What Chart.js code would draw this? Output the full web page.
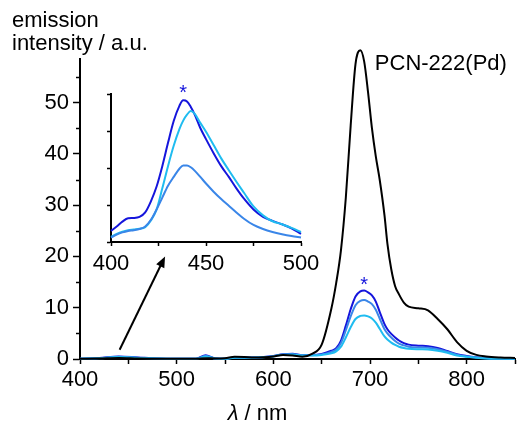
<!DOCTYPE html>
<html><head><meta charset="utf-8">
<script src="https://cdn.jsdelivr.net/npm/chart.js@4/dist/chart.umd.min.js"></script>
<style>
html,body{margin:0;padding:0;background:#fff;overflow:hidden}
#wrap{position:relative;width:518px;height:425px}
canvas{position:absolute;left:0;top:0}
</style></head><body>
<div id="wrap"><canvas id="main" width="518" height="425"></canvas><canvas id="inset" width="518" height="425"></canvas></div>
<script>
// ---- main spectrum data (wavelength / nm, emission intensity / a.u.) ----
const wavelengths = [400,420,440,460,480,500,520,530,540,550,560,570,580,590,600,610,620,630,640,650,660,665,670,675,680,685,690,694,698,702,706,710,715,718,722,726,730,735,740,750,760,770,780,790,800,810,820,835,850];
const pcnPd      = [0.05,0.1,0.2,0.1,0.05,0.05,0.05,0.15,0.1,0.15,0.45,0.4,0.3,0.35,0.5,0.8,0.7,0.45,1.0,2.8,9.8,14.8,21.3,31.5,45.5,57.5,60.2,58.0,52.0,45.0,39.5,35.0,28.0,22.5,17.5,14.2,12.6,11.0,10.2,9.9,9.5,7.8,5.8,3.3,1.6,0.8,0.5,0.3,0.2];
const sampleDark = [0.05,0.2,0.5,0.3,0.1,0.05,0.05,0.75,0.1,0.05,0.3,0.3,0.3,0.4,0.6,0.95,1.0,0.8,0.8,1.0,1.6,2.1,3.6,6.5,9.7,12.2,13.2,13.35,13.0,12.4,11.2,9.2,6.8,5.8,4.9,4.2,3.6,3.1,2.8,2.6,2.5,2.15,1.55,0.95,0.6,0.35,0.2,0.1,0.05];
const sampleMid  = [0.05,0.18,0.45,0.25,0.1,0.05,0.05,0.6,0.1,0.05,0.28,0.28,0.28,0.38,0.55,0.9,0.95,0.75,0.75,0.9,1.4,1.85,3.1,5.6,8.3,10.5,11.35,11.5,11.2,10.7,9.6,7.9,5.8,5.0,4.2,3.5,3.0,2.65,2.4,2.25,2.2,1.9,1.4,0.85,0.5,0.3,0.15,0.08,0.05];
const sampleCyan = [0.05,0.15,0.4,0.2,0.08,0.05,0.05,0.5,0.1,0.05,0.25,0.25,0.25,0.35,0.5,0.85,0.9,0.7,0.7,0.8,1.1,1.5,2.4,4.2,6.2,7.8,8.4,8.5,8.3,7.9,7.1,5.9,4.4,3.8,3.2,2.75,2.4,2.15,2.0,1.9,1.85,1.6,1.2,0.7,0.45,0.25,0.12,0.06,0.04];
const xTickLabels = [400,500,600,700,800];
const yTickLabels = [0,10,20,30,40,50];

// ---- inset data (400-500 nm region, arbitrary units) ----
const insetWavelengths = [400,403,406,409,412,415,418,421,424,427,430,433,436,438,440,442,444,447,450,454,458,462,466,470,475,480,485,490,495,500];
const insetDark = [0.30,0.42,0.55,0.64,0.65,0.68,0.80,1.10,1.50,2.05,2.68,3.27,3.68,3.83,3.80,3.65,3.45,3.08,2.78,2.40,2.05,1.76,1.45,1.17,0.88,0.68,0.57,0.48,0.37,0.22];
const insetCyan = [0.14,0.22,0.28,0.32,0.34,0.36,0.40,0.58,0.88,1.45,2.05,2.60,3.05,3.28,3.44,3.54,3.47,3.22,2.98,2.62,2.26,1.94,1.63,1.33,0.96,0.72,0.56,0.48,0.38,0.27];
const insetMid  = [0.12,0.20,0.26,0.30,0.32,0.35,0.42,0.60,0.88,1.20,1.52,1.76,1.98,2.07,2.07,2.02,1.93,1.76,1.58,1.36,1.16,0.98,0.80,0.63,0.46,0.35,0.27,0.21,0.16,0.12];
const insetXTickLabels = [400,450,500];

const C_BLACK = '#000000', C_DARK = '#1515dc', C_MID = '#3a86e8', C_CYAN = '#1fbcf0';
const FONT = '"Liberation Sans", Arial, Helvetica, sans-serif';
const pts = (xs, ys) => xs.map((x, i) => ({x, y: ys[i]}));

function ds(xs, ys, color) {
  return {data: pts(xs, ys), borderColor: color, borderWidth: 2, pointRadius: 0, fill: false,
          cubicInterpolationMode: 'monotone', clip: false};
}

const mainDeco = {
  id: 'mainDeco',
  afterDraw(chart) {
    const ctx = chart.ctx, xs = chart.scales.x, ys = chart.scales.y;
    ctx.save();
    // minor y ticks
    ctx.strokeStyle = '#000'; ctx.lineWidth = 1.5;
    for (let v = 5; v < ys.max; v += 10) {
      const y = Math.round(ys.getPixelForValue(v)) + 0.5;
      ctx.beginPath(); ctx.moveTo(xs.left - 4, y); ctx.lineTo(xs.left, y); ctx.stroke();
    }
    // series label
    ctx.fillStyle = '#000';
    ctx.font = '22px ' + FONT; ctx.textAlign = 'left'; ctx.textBaseline = 'alphabetic';
    ctx.fillText('PCN-222(Pd)', xs.getPixelForValue(705), ys.getPixelForValue(56.4));
    // asterisk over the strongest blue peak
    let im = 0; sampleDark.forEach((v, i) => { if (v > sampleDark[im]) im = i; });
    ctx.fillStyle = C_DARK; ctx.font = '20px ' + FONT; ctx.textAlign = 'center';
    ctx.fillText('*', xs.getPixelForValue(wavelengths[im]), ys.getPixelForValue(sampleDark[im]));
    // arrow pointing to inset
    const x0 = xs.getPixelForValue(441), y0 = ys.getPixelForValue(1.8);
    const x1 = xs.getPixelForValue(488), y1 = ys.getPixelForValue(20);
    const ang = Math.atan2(y1 - y0, x1 - x0), L = 11, W = 4.5;
    ctx.strokeStyle = '#000'; ctx.lineWidth = 2;
    ctx.beginPath(); ctx.moveTo(x0, y0);
    ctx.lineTo(x1 - Math.cos(ang) * (L - 2), y1 - Math.sin(ang) * (L - 2)); ctx.stroke();
    ctx.fillStyle = '#000'; ctx.beginPath();
    ctx.moveTo(x1, y1);
    ctx.lineTo(x1 - Math.cos(ang) * L + Math.sin(ang) * W, y1 - Math.sin(ang) * L - Math.cos(ang) * W);
    ctx.lineTo(x1 - Math.cos(ang) * L - Math.sin(ang) * W, y1 - Math.sin(ang) * L + Math.cos(ang) * W);
    ctx.closePath(); ctx.fill();
    // axis titles
    ctx.fillStyle = '#000'; ctx.font = '22px ' + FONT; ctx.textAlign = 'left';
    ctx.fillText('emission', 12, 27);
    ctx.fillText('intensity / a.u.', 12, 50);
    ctx.font = 'italic 22px ' + FONT;
    const wl = ctx.measureText('λ').width;
    ctx.font = '22px ' + FONT;
    const wr = ctx.measureText(' / nm').width;
    const cx = (xs.left + xs.right) / 2 - 40;
    let sx = cx - (wl + wr) / 2;
    ctx.font = 'italic 22px ' + FONT; ctx.fillText('λ', sx, 420);
    ctx.font = '22px ' + FONT; ctx.fillText(' / nm', sx + wl, 420);
    ctx.restore();
  }
};

new Chart(document.getElementById('main'), {
  type: 'line',
  data: {datasets: [
    ds(wavelengths, pcnPd, C_BLACK),
    ds(wavelengths, sampleCyan, C_CYAN),
    ds(wavelengths, sampleMid, C_MID),
    ds(wavelengths, sampleDark, C_DARK)
  ]},
  options: {
    responsive: false, animation: false, devicePixelRatio: 1,
    layout: {padding: {left: 0, right: 0, top: 59, bottom: 0}},
    plugins: {legend: {display: false}, tooltip: {enabled: false}},
    scales: {
      x: {type: 'linear', min: 400, max: 850,
          afterFit(s) { s.height = 66; },
          ticks: {stepSize: 50, autoSkip: false, maxRotation: 0, padding: 3, color: '#000',
                  font: {size: 22, family: FONT},
                  callback: v => xTickLabels.includes(v) ? String(v) : ''},
          grid: {drawOnChartArea: false, tickLength: 5, tickColor: '#000', tickWidth: 1.5},
          border: {color: '#000', width: 2}},
      y: {type: 'linear', min: 0, max: 58.5,
          afterFit(s) { s.width = 80; },
          ticks: {stepSize: 10, includeBounds: false, padding: 4, color: '#000',
                  font: {size: 22, family: FONT},
                  callback: v => yTickLabels.includes(v) ? String(v) : ''},
          grid: {drawOnChartArea: false, tickLength: 7, tickColor: '#000', tickWidth: 1.5},
          border: {color: '#000', width: 2}}
    }
  },
  plugins: [mainDeco]
});

const insetDeco = {
  id: 'insetDeco',
  afterDraw(chart) {
    const ctx = chart.ctx, xs = chart.scales.x, ys = chart.scales.y;
    let im = 0; insetDark.forEach((v, i) => { if (v > insetDark[im]) im = i; });
    ctx.save();
    ctx.fillStyle = C_DARK; ctx.font = '20px ' + FONT; ctx.textAlign = 'center'; ctx.textBaseline = 'alphabetic';
    ctx.fillText('*', xs.getPixelForValue(insetWavelengths[im]), ys.getPixelForValue(insetDark[im]) - 1);
    ctx.restore();
  }
};

new Chart(document.getElementById('inset'), {
  type: 'line',
  data: {datasets: [
    ds(insetWavelengths, insetMid, C_MID),
    ds(insetWavelengths, insetCyan, C_CYAN),
    ds(insetWavelengths, insetDark, C_DARK)
  ]},
  options: {
    responsive: false, animation: false, devicePixelRatio: 1,
    layout: {padding: {left: 101, right: 217, top: 94, bottom: 153}},
    plugins: {legend: {display: false}, tooltip: {enabled: false}},
    scales: {
      x: {type: 'linear', min: 400, max: 500,
          afterFit(s) { s.height = 30; },
          ticks: {stepSize: 25, autoSkip: false, maxRotation: 0, padding: 5, color: '#000',
                  font: {size: 22, family: FONT},
                  callback: v => insetXTickLabels.includes(v) ? String(v) : ''},
          grid: {drawOnChartArea: false, tickLength: 4, tickColor: '#000', tickWidth: 1.5},
          border: {color: '#000', width: 2}},
      y: {type: 'linear', min: 0, max: 4,
          afterFit(s) { s.width = 10; },
          ticks: {stepSize: 1, display: false},
          grid: {drawOnChartArea: false, tickLength: 4, tickColor: '#000', tickWidth: 1.5},
          border: {color: '#000', width: 2}}
    }
  },
  plugins: [insetDeco]
});
</script>
</body></html>
